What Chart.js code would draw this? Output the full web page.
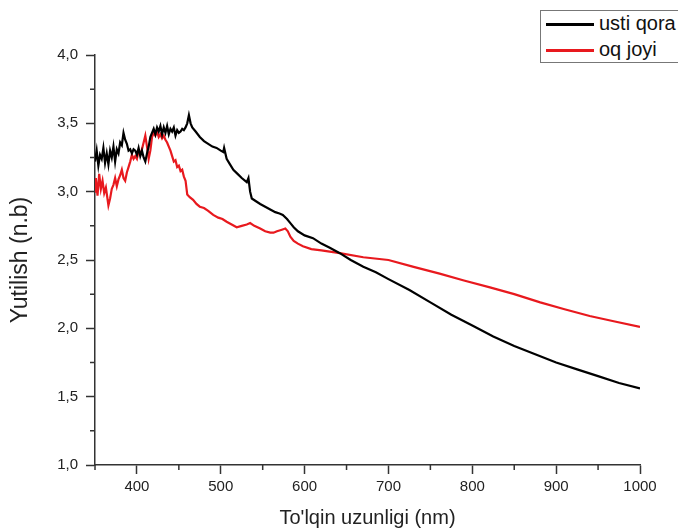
<!DOCTYPE html>
<html lang="uz">
<head>
    <meta charset="UTF-8">
    <title>Yutilish spektri</title>
    <script src="https://cdn.jsdelivr.net/npm/chart.js@4.4.1/dist/chart.umd.min.js"></script>
    <style>
        body { margin: 0; background: #fff; overflow: hidden; }
        #wrap { position: relative; width: 678px; height: 530px; }
        #legend {
            position: absolute; left: 540px; top: 10px; width: 150px; height: 51px;
            border: 1px solid #777; background: #fff;
            font-family: "Liberation Sans", Arial, sans-serif; font-size: 20px; color: #111;
        }
        .item { position: absolute; left: 5px; height: 24px; line-height: 24px; white-space: nowrap; }
        .item span.line { display: inline-block; width: 48px; height: 2.5px; vertical-align: middle; margin-right: 5px; }
    </style>
</head>
<body>
<div id="wrap">
    <canvas id="myChart" width="678" height="530"></canvas>
    <div id="legend">
        <div class="item" style="top:0px"><span class="line" style="background:#000"></span>usti qora</div>
        <div class="item" style="top:26px"><span class="line" style="background:#e8191e"></span>oq joyi</div>
    </div>
</div>

<script>
    // usti qora (qora chiziq)
    const blackX = [350, 352, 354, 356, 358, 360, 362, 364, 366, 368, 370, 372, 374, 376, 378, 380, 382, 384, 386, 388,
        390, 392, 394, 396, 398, 400, 402, 404, 406, 408, 410, 412, 414, 416, 418, 420, 422, 424, 426, 428,
        430, 432, 434, 436, 438, 440, 442, 444, 446, 448, 450, 452, 454, 456, 458, 460, 462, 464, 466, 470,
        475, 480, 485, 490, 495, 500, 503, 504, 507, 511, 515, 520, 525, 531, 533, 535, 537, 542, 547, 553,
        559, 565, 570, 574, 579, 583, 587, 592, 600, 610, 620, 630, 642, 655, 670, 685, 700, 725, 750, 775,
        800, 825, 850, 875, 900, 925, 950, 975, 1000];
    const blackY = [3.22, 3.30, 3.19, 3.27, 3.24, 3.32, 3.21, 3.28, 3.20, 3.30, 3.25, 3.33, 3.22, 3.31, 3.28, 3.36, 3.34, 3.43, 3.38, 3.35,
        3.30, 3.31, 3.28, 3.31, 3.30, 3.27, 3.32, 3.26, 3.30, 3.25, 3.22, 3.28, 3.33, 3.40, 3.43, 3.46, 3.42, 3.47, 3.44, 3.48,
        3.42, 3.47, 3.43, 3.48, 3.42, 3.46, 3.44, 3.47, 3.41, 3.45, 3.43, 3.44, 3.46, 3.45, 3.47, 3.50, 3.56, 3.50, 3.47, 3.44,
        3.40, 3.37, 3.35, 3.33, 3.32, 3.30, 3.29, 3.32, 3.24, 3.20, 3.16, 3.13, 3.10, 3.07, 3.10, 3.00, 2.95, 2.93, 2.91, 2.89,
        2.87, 2.85, 2.84, 2.83, 2.80, 2.77, 2.74, 2.71, 2.68, 2.66, 2.62, 2.59, 2.55, 2.50, 2.45, 2.41, 2.36, 2.28, 2.19, 2.10,
        2.02, 1.94, 1.87, 1.81, 1.75, 1.70, 1.65, 1.60, 1.56];

    // oq joyi (qizil chiziq)
    const redX = [350, 351, 353, 355, 357, 359, 361, 363, 366, 368, 370, 372, 374, 376, 378, 380, 382, 384, 386, 388,
        390, 392, 394, 396, 398, 400, 402, 404, 406, 408, 410, 412, 414, 416, 418, 420, 422, 424, 426, 428,
        430, 432, 434, 436, 438, 440, 442, 444, 446, 448, 450, 452, 454, 456, 458, 460, 463, 467, 471, 475,
        480, 485, 491, 497, 502, 507, 513, 519, 525, 531, 535, 540, 547, 553, 559, 563, 567, 572, 577, 580,
        583, 587, 592, 598, 608, 620, 642, 670, 700, 730, 761, 790, 821, 850, 881, 910, 940, 970, 1000];
    const redY = [3.00, 3.10, 2.97, 3.13, 3.02, 3.08, 2.99, 3.03, 2.90, 2.95, 3.02, 3.05, 3.10, 3.04, 3.09, 3.12, 3.16, 3.10, 3.08, 3.14,
        3.18, 3.22, 3.27, 3.24, 3.26, 3.24, 3.30, 3.27, 3.31, 3.36, 3.41, 3.33, 3.24, 3.30, 3.40, 3.43, 3.41, 3.44, 3.40, 3.42,
        3.39, 3.41, 3.38, 3.36, 3.33, 3.30, 3.26, 3.22, 3.23, 3.18, 3.19, 3.15, 3.16, 3.11, 3.08, 2.98, 2.96, 2.94, 2.91, 2.89,
        2.88, 2.86, 2.83, 2.81, 2.80, 2.78, 2.76, 2.74, 2.75, 2.76, 2.77, 2.75, 2.73, 2.71, 2.70, 2.70, 2.71, 2.72, 2.73, 2.71,
        2.67, 2.64, 2.62, 2.60, 2.58, 2.57, 2.55, 2.52, 2.50, 2.45, 2.40, 2.35, 2.30, 2.25, 2.19, 2.14, 2.09, 2.05, 2.01];

    const xMajor = [400, 500, 600, 700, 800, 900, 1000];
    const xMinor = [350, 450, 550, 650, 750, 850, 950];
    const yMinor = [1.25, 1.75, 2.25, 2.75, 3.25, 3.75];

    const axisColor = '#333';
    const fontFam = '"Liberation Sans", Arial, sans-serif';

    function toPoints(xs, ys) {
        return xs.map((x, i) => ({x: x, y: ys[i]}));
    }

    // kichik chiziqchalar (minor ticks)
    const minorTicks = {
        id: 'minorTicks',
        afterDraw(chart) {
            const ctx = chart.ctx;
            const xs = chart.scales.x, ys = chart.scales.y;
            const area = chart.chartArea;
            ctx.save();
            ctx.strokeStyle = axisColor;
            ctx.lineWidth = 1.5;
            ctx.beginPath();
            xMinor.forEach(v => {
                const px = xs.getPixelForValue(v);
                ctx.moveTo(px, area.bottom);
                ctx.lineTo(px, area.bottom + 5);
            });
            yMinor.forEach(v => {
                const py = ys.getPixelForValue(v);
                ctx.moveTo(area.left - 5, py);
                ctx.lineTo(area.left, py);
            });
            ctx.stroke();
            ctx.restore();
        }
    };

    const ctx = document.getElementById('myChart').getContext('2d');
    const myChart = new Chart(ctx, {
        type: 'scatter',
        data: {
            datasets: [
                {
                    label: 'usti qora',
                    data: toPoints(blackX, blackY),
                    showLine: true,
                    borderColor: '#000',
                    borderWidth: 2.2,
                    pointRadius: 0,
                    tension: 0
                },
                {
                    label: 'oq joyi',
                    data: toPoints(redX, redY),
                    showLine: true,
                    borderColor: '#e8191e',
                    borderWidth: 2.2,
                    pointRadius: 0,
                    tension: 0
                }
            ]
        },
        options: {
            responsive: false,
            animation: false,
            layout: { padding: { top: 55, right: 38, left: 0, bottom: 0 } },
            plugins: {
                legend: { display: false },
                tooltip: { enabled: false }
            },
            scales: {
                x: {
                    type: 'linear',
                    min: 350,
                    max: 1000,
                    afterBuildTicks: scale => { scale.ticks = xMajor.map(v => ({value: v})); },
                    afterFit: scale => { scale.height = 65; },
                    border: { display: true, color: axisColor, width: 1.5 },
                    grid: { drawOnChartArea: false, drawTicks: true, tickLength: 9, tickColor: axisColor, tickWidth: 1.5 },
                    ticks: {
                        autoSkip: false,
                        maxRotation: 0,
                        padding: 4,
                        color: '#222',
                        font: { family: fontFam, size: 15 },
                        callback: v => String(v)
                    },
                    title: {
                        display: true,
                        text: "To'lqin uzunligi (nm)",
                        color: '#222',
                        font: { family: fontFam, size: 20 },
                        padding: { top: 0, bottom: 0 }
                    }
                },
                y: {
                    min: 1,
                    max: 4,
                    afterFit: scale => { scale.width = 95; },
                    border: { display: true, color: axisColor, width: 1.5 },
                    grid: { drawOnChartArea: false, drawTicks: true, tickLength: 9, tickColor: axisColor, tickWidth: 1.5 },
                    ticks: {
                        stepSize: 0.5,
                        padding: 8,
                        color: '#222',
                        font: { family: fontFam, size: 15 },
                        callback: v => v.toFixed(1).replace('.', ',')
                    },
                    title: {
                        display: true,
                        text: 'Yutilish (n.b)',
                        color: '#222',
                        font: { family: fontFam, size: 23 },
                        padding: { top: 7, bottom: 0 }
                    }
                }
            }
        },
        plugins: [minorTicks]
    });
</script>
</body>
</html>
